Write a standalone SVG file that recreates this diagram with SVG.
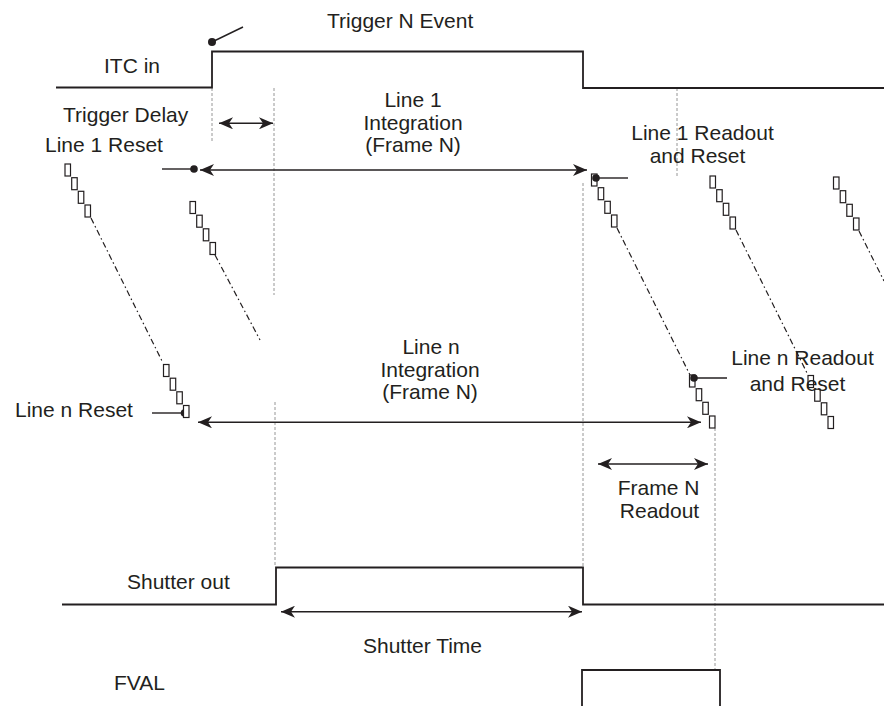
<svg xmlns="http://www.w3.org/2000/svg" xmlns:xlink="http://www.w3.org/1999/xlink" width="884" height="706" viewBox="0 0 884 706">
<style>
text{font-family:"Liberation Sans",Arial,Helvetica,sans-serif;font-size:21px;fill:#231f20}
.mid{text-anchor:middle}
.sig{fill:none;stroke:#231f20;stroke-width:1.8}
.guide{fill:none;stroke:#8a8a8a;stroke-width:0.9;stroke-dasharray:3 2}
.arr{fill:none;stroke:#231f20;stroke-width:1.4}
.dd{fill:none;stroke:#231f20;stroke-width:1.2;stroke-dasharray:6 3 1.5 3}
.tick{fill:none;stroke:#231f20;stroke-width:1.4}
.dot{fill:#231f20}
.cell{fill:#fff;stroke:#231f20;stroke-width:1.2}
</style>
<defs>
<marker id="ah" viewBox="0 0 14 12" refX="14" refY="6" markerWidth="14" markerHeight="12" markerUnits="userSpaceOnUse" orient="auto-start-reverse">
<path d="M0,0 L14,6 L0,12 L4,6 Z" fill="#231f20"/>
</marker>
<g id="stair">
<rect class="cell" x="0" y="0" width="5.5" height="12"/>
<rect class="cell" x="6.7" y="13.7" width="5.5" height="12"/>
<rect class="cell" x="13.3" y="27.3" width="5.5" height="12"/>
<rect class="cell" x="20" y="41" width="5.5" height="12"/>
</g>
</defs>
<rect width="884" height="706" fill="#fff"/>

<g id="guides">
<line class="guide" x1="212" y1="88" x2="212" y2="142"/>
<line class="guide" x1="274" y1="88" x2="274" y2="295"/>
<line class="guide" x1="275" y1="402" x2="275" y2="567"/>
<line class="guide" x1="677" y1="88" x2="677" y2="176"/>
<line class="guide" x1="583" y1="183" x2="583" y2="567"/>
<line class="guide" x1="715" y1="428" x2="715" y2="670"/>
</g>

<g id="itc-in">
<path class="sig" d="M56,87.5 H212 V51.5 H583 V88 H884"/>
<text x="104" y="73">ITC in</text>
</g>

<g id="trigger-event">
<line class="tick" x1="212" y1="42" x2="243" y2="27"/>
<circle class="dot" cx="212" cy="42" r="4"/>
<text x="327" y="28">Trigger N Event</text>
</g>

<g id="trigger-delay">
<text x="63" y="122">Trigger Delay</text>
</g>

<g id="line1-reset">
<text x="45" y="152">Line 1 Reset</text>
<line class="tick" x1="162" y1="169" x2="194" y2="169"/>
<circle class="dot" cx="194" cy="169" r="3.8"/>
</g>

<g id="line1-integration">
<text class="mid" x="413" y="107">Line 1</text>
<text class="mid" x="413" y="130">Integration</text>
<text class="mid" x="413" y="152">(Frame N)</text>
</g>

<g id="stair-1">
<line class="dd" x1="91" y1="218" x2="163" y2="363"/>
<use xlink:href="#stair" x="65" y="164"/>
</g>

<g id="stair-2">
<line class="dd" x1="215" y1="255" x2="260" y2="340"/>
<use xlink:href="#stair" x="190" y="201.5"/>
</g>

<g id="linen-reset">
<text x="15" y="417">Line n Reset</text>
<line class="tick" x1="152" y1="413" x2="184" y2="413"/>
<circle class="dot" cx="184.5" cy="413" r="3.8"/>
<use xlink:href="#stair" x="163.5" y="364.5"/>
</g>

<g id="linen-integration">
<text class="mid" x="431" y="354">Line n</text>
<text class="mid" x="430" y="377">Integration</text>
<text class="mid" x="430" y="399">(Frame N)</text>
</g>

<g id="stair-3">
<line class="dd" x1="617" y1="228" x2="690" y2="375"/>
<use xlink:href="#stair" x="591.5" y="174"/>
<line class="tick" x1="596" y1="178" x2="628" y2="178"/>
<circle class="dot" cx="596" cy="178" r="3.8"/>
</g>

<g id="line1-readout">
<text class="mid" x="702.5" y="139.5">Line 1 Readout</text>
<text class="mid" x="697.5" y="163">and Reset</text>
</g>

<g id="linen-readout-stair">
<use xlink:href="#stair" x="689.5" y="375"/>
<line class="tick" x1="694" y1="378" x2="727" y2="378"/>
<circle class="dot" cx="694" cy="378" r="3.8"/>
</g>

<g id="stair-4">
<line class="dd" x1="736" y1="230" x2="808" y2="375"/>
<use xlink:href="#stair" x="710" y="176"/>
<use xlink:href="#stair" x="808" y="375.5"/>
</g>

<g id="stair-5">
<line class="dd" x1="859" y1="231" x2="884" y2="281"/>
<use xlink:href="#stair" x="833.5" y="177"/>
</g>

<g id="linen-readout">
<text class="mid" x="802.5" y="365">Line n Readout</text>
<text class="mid" x="797.5" y="391">and Reset</text>
</g>

<g id="frame-readout">
<text class="mid" x="658.5" y="495">Frame N</text>
<text class="mid" x="659.5" y="518">Readout</text>
</g>

<g id="shutter-out">
<path class="sig" d="M62,604.5 H276 V567.5 H583 V604.5 H884"/>
<text x="127" y="589">Shutter out</text>
</g>

<g id="shutter-time">
<text class="mid" x="422.5" y="653">Shutter Time</text>
</g>

<g id="fval">
<path class="sig" d="M582,706 V670 H720 V706"/>
<text x="114" y="690">FVAL</text>
</g>

<g id="connectors">
<line class="arr" x1="219" y1="123.3" x2="273" y2="123.3" marker-start="url(#ah)" marker-end="url(#ah)"/>
<line class="arr" x1="200" y1="170" x2="587" y2="170" marker-start="url(#ah)" marker-end="url(#ah)"/>
<line class="arr" x1="198" y1="422.3" x2="701" y2="422.3" marker-start="url(#ah)" marker-end="url(#ah)"/>
<line class="arr" x1="598" y1="464" x2="708" y2="464" marker-start="url(#ah)" marker-end="url(#ah)"/>
<line class="arr" x1="281" y1="611.7" x2="582" y2="611.7" marker-start="url(#ah)" marker-end="url(#ah)"/>
</g>
</svg>
